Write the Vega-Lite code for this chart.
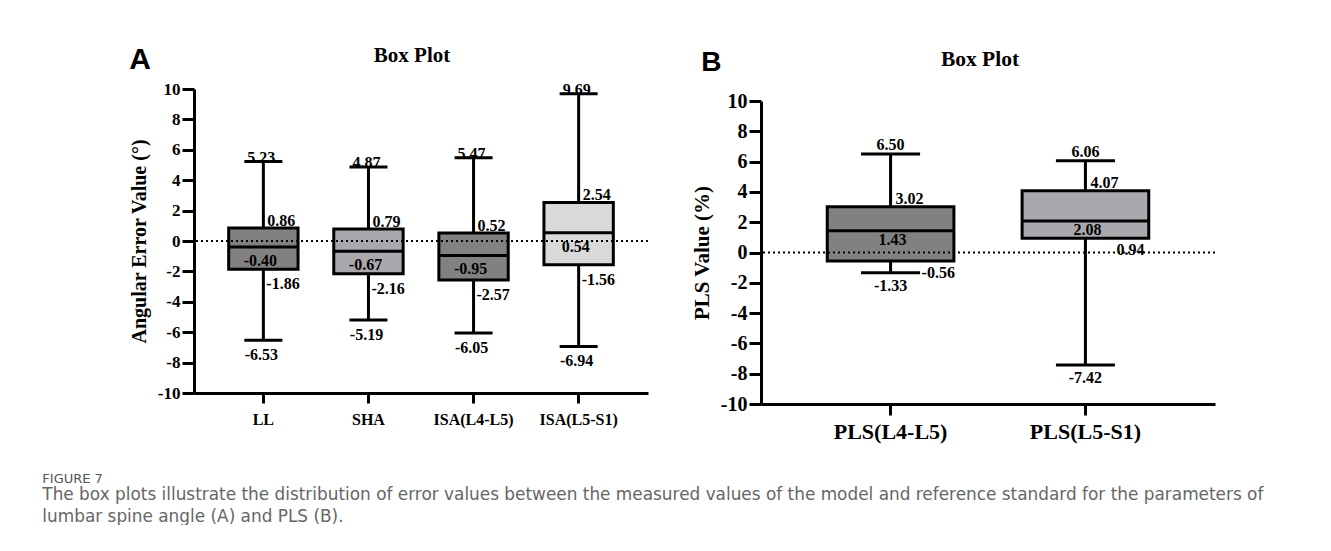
{
  "$schema": "https://vega.github.io/schema/vega-lite/v6.json",
  "background": "white",
  "padding": {"left": 42, "top": 45, "right": 0, "bottom": 0},
  "datasets": {
    "boxA": [
      {"cat": "LL", "min": -6.53, "q1": -1.86, "median": -0.40, "q3": 0.86, "max": 5.23},
      {"cat": "SHA", "min": -5.19, "q1": -2.16, "median": -0.67, "q3": 0.79, "max": 4.87},
      {"cat": "ISA(L4-L5)", "min": -6.05, "q1": -2.57, "median": -0.95, "q3": 0.52, "max": 5.47},
      {"cat": "ISA(L5-S1)", "min": -6.94, "q1": -1.56, "median": 0.54, "q3": 2.54, "max": 9.69}
    ],
    "boxB": [
      {"cat": "PLS(L4-L5)", "min": -1.33, "q1": -0.56, "median": 1.43, "q3": 3.02, "max": 6.50},
      {"cat": "PLS(L5-S1)", "min": -7.42, "q1": 0.94, "median": 2.08, "q3": 4.07, "max": 6.06}
    ]
  },
  "title": {
    "text": "FIGURE 7",
    "subtitle": [
      "The box plots illustrate the distribution of error values between the measured values of the model and reference standard for the parameters of",
      "lumbar spine angle (A) and PLS (B)."
    ],
    "orient": "bottom",
    "anchor": "start",
    "frame": "bounds",
    "dx": -87,
    "offset": 31,
    "font": "DejaVu Sans",
    "fontSize": 13,
    "fontWeight": "normal",
    "color": "#555555",
    "subtitleFont": "DejaVu Sans",
    "subtitleFontSize": 16.9,
    "subtitleColor": "#666666",
    "subtitleLineHeight": 22,
    "subtitlePadding": 1
  },
  "resolve": {"scale": {"color": "independent", "x": "independent", "y": "independent"}},
  "spacing": 42,
  "hconcat": [
    {
      "title": {"text": "A", "anchor": "start", "frame": "bounds", "font": "Liberation Sans", "fontSize": 30, "fontWeight": "bold", "color": "black", "offset": -30},
      "vconcat": [
        {
          "width": 454,
          "height": 304,
          "title": {"text": "Box Plot", "font": "Liberation Serif", "fontSize": 21, "fontWeight": "bold", "color": "black", "offset": 14, "dx": -9},
          "data": {"name": "boxA"},
          "layer": [
            {
              "mark": {"type": "rule", "color": "black", "strokeWidth": 3},
              "encoding": {
                "x": {"field": "cat", "type": "nominal", "sort": null, "title": null,
                  "scale": {"paddingInner": 0.34, "paddingOuter": 0.33},
                  "axis": {"labelAngle": 0, "labelFontSize": 16, "tickSize": 10, "labelPadding": 8}},
                "y": {"field": "min", "type": "quantitative",
                  "scale": {"domain": [-10, 10], "nice": false, "zero": false},
                  "axis": {"values": [-10, -8, -6, -4, -2, 0, 2, 4, 6, 8, 10], "tickCount": 11, "labelOverlap": false, "labelFontSize": 17, "tickSize": 12,
                    "title": "Angular Error Value (°)", "titleFontSize": 20, "titlePadding": 8}},
                "y2": {"field": "max"}
              }
            },
            {
              "mark": {"type": "tick", "color": "black", "thickness": 3, "size": 38, "opacity": 1},
              "encoding": {"x": {"field": "cat", "type": "nominal", "sort": null}, "y": {"field": "min", "type": "quantitative"}}
            },
            {
              "mark": {"type": "tick", "color": "black", "thickness": 3, "size": 38, "opacity": 1},
              "encoding": {"x": {"field": "cat", "type": "nominal", "sort": null}, "y": {"field": "max", "type": "quantitative"}}
            },
            {
              "mark": {"type": "bar", "stroke": "black", "strokeWidth": 3, "opacity": 1},
              "encoding": {
                "x": {"field": "cat", "type": "nominal", "sort": null},
                "y": {"field": "q1", "type": "quantitative"},
                "y2": {"field": "q3"},
                "color": {"field": "cat", "type": "nominal", "legend": null,
                  "scale": {"domain": ["LL", "SHA", "ISA(L4-L5)", "ISA(L5-S1)"], "range": ["#818181", "#a9a9ad", "#818181", "#d9d9d9"]}}
              }
            },
            {
              "mark": {"type": "tick", "color": "black", "thickness": 3, "size": 69, "opacity": 1},
              "encoding": {"x": {"field": "cat", "type": "nominal", "sort": null}, "y": {"field": "median", "type": "quantitative"}}
            },
            {
              "data": {"values": [{"zero": 0}]},
              "mark": {"type": "rule", "color": "black", "strokeWidth": 2, "strokeDash": [2, 3]},
              "encoding": {"y": {"field": "zero", "type": "quantitative"}}
            },
            {
              "mark": {"type": "text", "color": "black", "font": "Liberation Serif", "fontWeight": "bold", "fontSize": 16, "align": "center", "baseline": "alphabetic", "dx": -2, "dy": 1},
              "encoding": {"x": {"field": "cat", "type": "nominal", "sort": null}, "y": {"field": "max", "type": "quantitative"}, "text": {"field": "max", "type": "quantitative", "format": ".2f"}}
            },
            {
              "mark": {"type": "text", "color": "black", "font": "Liberation Serif", "fontWeight": "bold", "fontSize": 16, "align": "left", "baseline": "alphabetic", "dx": 4, "dy": -2},
              "encoding": {"x": {"field": "cat", "type": "nominal", "sort": null}, "y": {"field": "q3", "type": "quantitative"}, "text": {"field": "q3", "type": "quantitative", "format": ".2f"}}
            },
            {
              "mark": {"type": "text", "color": "black", "font": "Liberation Serif", "fontWeight": "bold", "fontSize": 16, "align": "center", "baseline": "top", "dx": -3, "dy": 6},
              "encoding": {"x": {"field": "cat", "type": "nominal", "sort": null}, "y": {"field": "median", "type": "quantitative"}, "text": {"field": "median", "type": "quantitative", "format": ".2f"}}
            },
            {
              "mark": {"type": "text", "color": "black", "font": "Liberation Serif", "fontWeight": "bold", "fontSize": 16, "align": "left", "baseline": "top", "dx": 3, "dy": 7},
              "encoding": {"x": {"field": "cat", "type": "nominal", "sort": null}, "y": {"field": "q1", "type": "quantitative"}, "text": {"field": "q1", "type": "quantitative", "format": ".2f"}}
            },
            {
              "mark": {"type": "text", "color": "black", "font": "Liberation Serif", "fontWeight": "bold", "fontSize": 16, "align": "center", "baseline": "top", "dx": -2, "dy": 7},
              "encoding": {"x": {"field": "cat", "type": "nominal", "sort": null}, "y": {"field": "min", "type": "quantitative"}, "text": {"field": "min", "type": "quantitative", "format": ".2f"}}
            }
          ]
        }
      ]
    },
    {
      "title": {"text": "B", "anchor": "start", "frame": "bounds", "font": "Liberation Sans", "fontSize": 28, "fontWeight": "bold", "color": "black", "offset": -28, "dx": 10},
      "spacing": -45,
      "vconcat": [
        {
          "width": 10,
          "height": 1,
          "data": {"values": [{"s": 0}]},
          "mark": {"type": "point", "opacity": 0},
          "encoding": {}
        },
        {
          "width": 454,
          "height": 303,
          "title": {"text": "Box Plot", "font": "Liberation Serif", "fontSize": 21.5, "fontWeight": "bold", "color": "black", "offset": 21, "dx": -8},
          "data": {"name": "boxB"},
          "layer": [
            {
              "mark": {"type": "rule", "color": "black", "strokeWidth": 3},
              "encoding": {
                "x": {"field": "cat", "type": "nominal", "sort": null, "title": null,
                  "scale": {"paddingInner": 0.35, "paddingOuter": 0.34},
                  "axis": {"labelAngle": 0, "labelFontSize": 22, "tickSize": 11, "labelPadding": 6}},
                "y": {"field": "min", "type": "quantitative",
                  "scale": {"domain": [-10, 10], "nice": false, "zero": false},
                  "axis": {"values": [-10, -8, -6, -4, -2, 0, 2, 4, 6, 8, 10], "tickCount": 11, "labelOverlap": false, "labelFontSize": 20, "tickSize": 12,
                    "title": "PLS Value (%)", "titleFontSize": 21, "titlePadding": 8}},
                "y2": {"field": "max"}
              }
            },
            {
              "mark": {"type": "tick", "color": "black", "thickness": 3, "size": 59, "opacity": 1},
              "encoding": {"x": {"field": "cat", "type": "nominal", "sort": null}, "y": {"field": "min", "type": "quantitative"}}
            },
            {
              "mark": {"type": "tick", "color": "black", "thickness": 3, "size": 59, "opacity": 1},
              "encoding": {"x": {"field": "cat", "type": "nominal", "sort": null}, "y": {"field": "max", "type": "quantitative"}}
            },
            {
              "mark": {"type": "bar", "stroke": "black", "strokeWidth": 3, "opacity": 1},
              "encoding": {
                "x": {"field": "cat", "type": "nominal", "sort": null},
                "y": {"field": "q1", "type": "quantitative"},
                "y2": {"field": "q3"},
                "color": {"field": "cat", "type": "nominal", "legend": null,
                  "scale": {"domain": ["PLS(L4-L5)", "PLS(L5-S1)"], "range": ["#818181", "#a9a9ad"]}}
              }
            },
            {
              "mark": {"type": "tick", "color": "black", "thickness": 3, "size": 127, "opacity": 1},
              "encoding": {"x": {"field": "cat", "type": "nominal", "sort": null}, "y": {"field": "median", "type": "quantitative"}}
            },
            {
              "data": {"values": [{"zero": 0}]},
              "mark": {"type": "rule", "color": "black", "strokeWidth": 2, "strokeDash": [2, 3]},
              "encoding": {"y": {"field": "zero", "type": "quantitative"}}
            },
            {
              "mark": {"type": "text", "color": "black", "font": "Liberation Serif", "fontWeight": "bold", "fontSize": 16, "align": "center", "baseline": "alphabetic", "dx": 0, "dy": -4},
              "encoding": {"x": {"field": "cat", "type": "nominal", "sort": null}, "y": {"field": "max", "type": "quantitative"}, "text": {"field": "max", "type": "quantitative", "format": ".2f"}}
            },
            {
              "mark": {"type": "text", "color": "black", "font": "Liberation Serif", "fontWeight": "bold", "fontSize": 16, "align": "left", "baseline": "alphabetic", "dx": 5, "dy": -3},
              "encoding": {"x": {"field": "cat", "type": "nominal", "sort": null}, "y": {"field": "q3", "type": "quantitative"}, "text": {"field": "q3", "type": "quantitative", "format": ".2f"}}
            },
            {
              "mark": {"type": "text", "color": "black", "font": "Liberation Serif", "fontWeight": "bold", "fontSize": 16, "align": "center", "baseline": "top", "dx": 2, "dy": 1},
              "encoding": {"x": {"field": "cat", "type": "nominal", "sort": null}, "y": {"field": "median", "type": "quantitative"}, "text": {"field": "median", "type": "quantitative", "format": ".2f"}}
            },
            {
              "mark": {"type": "text", "color": "black", "font": "Liberation Serif", "fontWeight": "bold", "fontSize": 16, "align": "left", "baseline": "top", "dx": 31, "dy": 4},
              "encoding": {"x": {"field": "cat", "type": "nominal", "sort": null}, "y": {"field": "q1", "type": "quantitative"}, "text": {"field": "q1", "type": "quantitative", "format": ".2f"}}
            },
            {
              "mark": {"type": "text", "color": "black", "font": "Liberation Serif", "fontWeight": "bold", "fontSize": 16, "align": "center", "baseline": "top", "dx": 0, "dy": 5},
              "encoding": {"x": {"field": "cat", "type": "nominal", "sort": null}, "y": {"field": "min", "type": "quantitative"}, "text": {"field": "min", "type": "quantitative", "format": ".2f"}}
            }
          ]
        }
      ]
    }
  ],
  "config": {
    "locale": {"number": {"decimal": ".", "thousands": ",", "grouping": [3], "currency": ["$", ""], "minus": "-"}},
    "view": {"stroke": null},
    "axis": {
      "domainColor": "black", "domainWidth": 3, "tickColor": "black", "tickWidth": 3,
      "labelFont": "Liberation Serif", "labelFontWeight": "bold", "labelColor": "black",
      "titleFont": "Liberation Serif", "titleFontWeight": "bold", "titleColor": "black",
      "grid": false, "labelOverlap": false
    },
    "axisY": {"labelPadding": 2}
  }
}
